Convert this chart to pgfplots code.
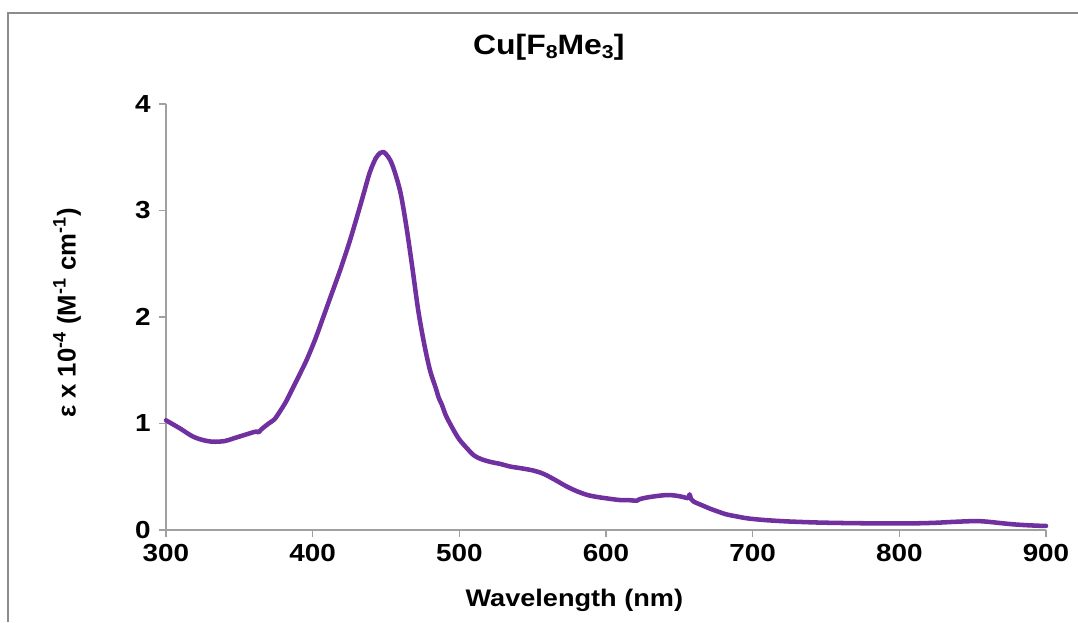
\documentclass[border=0pt]{standalone}
\usepackage{fontspec}
\setmainfont{Liberation Sans}
\usepackage{graphicx}
\usepackage{pgfplots}
\pgfplotsset{compat=1.18}
\definecolor{curve}{HTML}{7030A0}
\definecolor{axisgray}{HTML}{A0A0A0}
\definecolor{framegray}{HTML}{8C8C8C}
\newcommand\sx[1]{\scalebox{1.13}[1]{#1}}
\begin{document}
\begin{tikzpicture}
\path[use as bounding box] (0,0) rectangle (808.5pt,466.5pt);
\draw[framegray, line width=1.5pt] (6pt,0) -- (6pt,457.1pt) -- (808.5pt,457.1pt);
\begin{axis}[
  at={(124.5pt,69pt)}, anchor=south west,
  scale only axis, width=660pt, height=319.5pt,
  xmin=300, xmax=900, ymin=0, ymax=4,
  axis lines=left,
  axis line style={axisgray, line width=1.1pt, -},
  xtick={300,400,500,600,700,800,900}, ytick={0,1,2,3,4},
  xticklabels={\sx{300},\sx{400},\sx{500},\sx{600},\sx{700},\sx{800},\sx{900}},
  yticklabels={\sx{0},\sx{1},\sx{2},\sx{3},\sx{4}},
  tick align=outside,
  major tick length=5pt,
  tick style={axisgray, line width=1.1pt},
  minor tick num=0,
  ticklabel style={font=\fontsize{18.5}{20}\selectfont\bfseries},
  xticklabel style={yshift=-2pt},
  yticklabel style={xshift=-3pt},
  xlabel={\sx{Wavelength (nm)}},
  xlabel style={at={(axis description cs:0.464,0)}, anchor=center, yshift=-52.5pt, font=\fontsize{18}{20}\selectfont\bfseries},
  ylabel={ε x 10\textsuperscript{-4} (M\textsuperscript{-1} cm\textsuperscript{-1})},
  ylabel style={at={(axis description cs:-0.1125,0.509)}, anchor=center, rotate=0, font=\fontsize{19.3}{21}\selectfont\bfseries},
  title={\scalebox{1.14}[1]{Cu[F\raisebox{-0.15em}{\fontsize{14}{14}\selectfont 8}Me\raisebox{-0.15em}{\fontsize{14}{14}\selectfont 3}]}},
  title style={at={(axis description cs:0.435,1.115)}, anchor=center, font=\fontsize{21}{23}\selectfont\bfseries},
  clip=false,
]
\addplot[curve, line width=3.4pt, smooth, line join=round, line cap=round] coordinates {
(300,1.03) (305,0.99) (310,0.95) (318,0.88) (325,0.845) (332,0.829) (340,0.835)
(346,0.86) (353,0.89) (360,0.92) (362,0.925) (363,0.915) (365,0.945) (370,1.00)
(374,1.04) (378,1.12) (382,1.21) (386,1.32) (390,1.43) (396,1.60) (402,1.80)
(407,1.99) (413,2.22) (419,2.45) (425,2.70) (430,2.93) (435,3.17) (439,3.36)
(443,3.49) (446,3.54) (448,3.55) (450,3.53) (453,3.47) (456,3.36) (460,3.16)
(464,2.84) (468,2.46) (472,2.06) (476,1.75) (480,1.50) (484,1.33) (486,1.24)
(488,1.18) (491,1.07) (496,0.94) (500,0.85) (505,0.77) (510,0.70) (515,0.665)
(521,0.64) (528,0.62) (535,0.595) (542,0.58) (550,0.56) (556,0.535) (560,0.51)
(566,0.465) (573,0.41) (580,0.365) (587,0.33) (594,0.31) (600,0.298) (609,0.282)
(616,0.28) (621,0.275) (623,0.29) (630,0.31) (641,0.328) (648,0.322) (653,0.308)
(656,0.30) (657,0.335) (658,0.29) (660,0.265) (665,0.235) (671,0.20) (677,0.17)
(682,0.147) (690,0.125) (696,0.11) (705,0.097) (714,0.088) (723,0.081) (732,0.076)
(745,0.07) (760,0.066) (778,0.063) (795,0.063) (812,0.063) (825,0.068) (835,0.075)
(845,0.081) (853,0.084) (860,0.078) (869,0.065) (878,0.053) (887,0.045) (895,0.04)
(900,0.038)
};
\end{axis}
\end{tikzpicture}
\end{document}
